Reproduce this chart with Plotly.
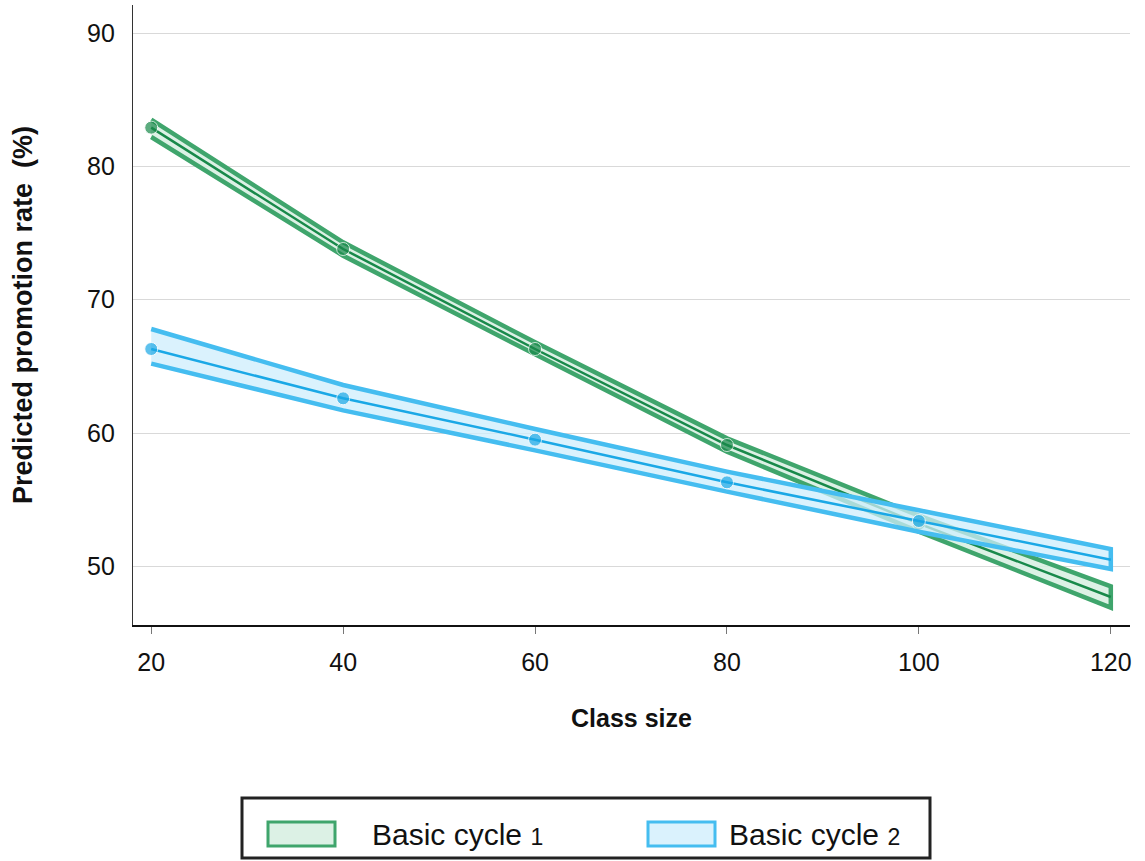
import plotly.graph_objects as go

class_size = [20, 40, 60, 80, 100, 120]

cycle1_mid = [82.9, 73.8, 66.3, 59.1, 53.2, 47.7]
cycle1_upper = [83.5, 74.3, 66.8, 59.6, 53.8, 48.5]
cycle1_lower = [82.2, 73.3, 65.9, 58.6, 52.6, 46.9]

cycle2_mid = [66.3, 62.6, 59.5, 56.3, 53.4, 50.5]
cycle2_upper = [67.8, 63.6, 60.3, 57.1, 54.2, 51.3]
cycle2_lower = [65.2, 61.7, 58.7, 55.6, 52.6, 49.8]

marker_sizes = [13, 13, 13, 13, 13, 0]

series_labels = ["Basic cycle ", "Basic cycle "]
series_nums = ["1", "2"]
y_ticks = [50, 60, 70, 80, 90]

GREEN_EDGE, GREEN_FILL, GREEN_LINE = "#3fa56c", "rgba(214,238,224,0.85)", "#18894a"
BLUE_EDGE, BLUE_FILL, BLUE_LINE = "#45bdf0", "rgba(206,238,252,0.75)", "#1aa8e6"

FONT = "Liberation Sans, Arial, sans-serif"

fig = go.Figure()

def add_series(name, mid, up, lo, edge, fill, line):
    fig.add_trace(go.Scatter(
        x=class_size + class_size[::-1],
        y=up + lo[::-1],
        fill="toself", fillcolor=fill, mode="lines",
        line=dict(color=edge, width=4.5),
        name=name, hoverinfo="skip", showlegend=False,
    ))
    fig.add_trace(go.Scatter(
        x=class_size, y=mid, mode="lines+markers",
        line=dict(color=line, width=2.5),
        marker=dict(color=line, size=marker_sizes),
        showlegend=False,
    ))

add_series("Basic cycle 1", cycle1_mid, cycle1_upper, cycle1_lower, GREEN_EDGE, GREEN_FILL, GREEN_LINE)
add_series("Basic cycle 2", cycle2_mid, cycle2_upper, cycle2_lower, BLUE_EDGE, BLUE_FILL, BLUE_LINE)

# manual legend (pixel -> paper conversion)
L, R, T, B, W, H = 133, 15, 5, 236, 1145, 861
pw, ph = W - L - R, H - T - B
def px(x):
    return (x - L) / pw
def py(y):
    return (H - B - y) / ph

fig.add_shape(type="rect", xref="paper", yref="paper",
              x0=px(242), x1=px(930), y0=py(798), y1=py(858),
              line=dict(color="#222", width=3), fillcolor="white", layer="above")
sym = [(268, 335, GREEN_EDGE, GREEN_FILL), (648, 715, BLUE_EDGE, BLUE_FILL)]
text_x = [370, 727]
for i in range(2):
    x0, x1, edge, fill = sym[i]
    fig.add_shape(type="rect", xref="paper", yref="paper",
                  x0=px(x0), x1=px(x1), y0=py(822), y1=py(846),
                  line=dict(color=edge, width=3), fillcolor=fill, layer="above")
    fig.add_annotation(xref="paper", yref="paper", x=px(text_x[i]), y=py(834),
                       xanchor="left", yanchor="middle", showarrow=False,
                       text=series_labels[i] + "<span style='font-size:23px'>" + series_nums[i] + "</span>",
                       font=dict(family=FONT, size=30, color="#111"))

fig.update_layout(
    width=W, height=H,
    margin=dict(l=L, r=R, t=T, b=B),
    paper_bgcolor="white", plot_bgcolor="white",
    font=dict(family=FONT, color="#111", size=25),
    showlegend=False,
    xaxis=dict(
        range=[18.1, 122], tickvals=class_size, ticks="outside", ticklen=7,
        tickcolor="#777", tickwidth=1.2,
        showline=True, linecolor="#111", linewidth=2,
        showgrid=False, zeroline=False, automargin=False,
        tickfont=dict(size=25), ticklabelstandoff=7,
        title=dict(text="<b>Class size</b>", font=dict(size=25), standoff=34),
    ),
    yaxis=dict(
        range=[45.6, 92.1], tickvals=y_ticks,
        showline=True, linecolor="#333", linewidth=1.2,
        showgrid=True, gridcolor="#d9d9d9", gridwidth=1, zeroline=False, automargin=False,
        tickfont=dict(size=25), ticklabelstandoff=12,
        title=dict(text="<b>Predicted promotion rate  (%)</b>", font=dict(size=27), standoff=46),
    ),
)

fig.write_html("out.html", config={"displayModeBar": False},
               post_script="document.body.style.margin='0';")
